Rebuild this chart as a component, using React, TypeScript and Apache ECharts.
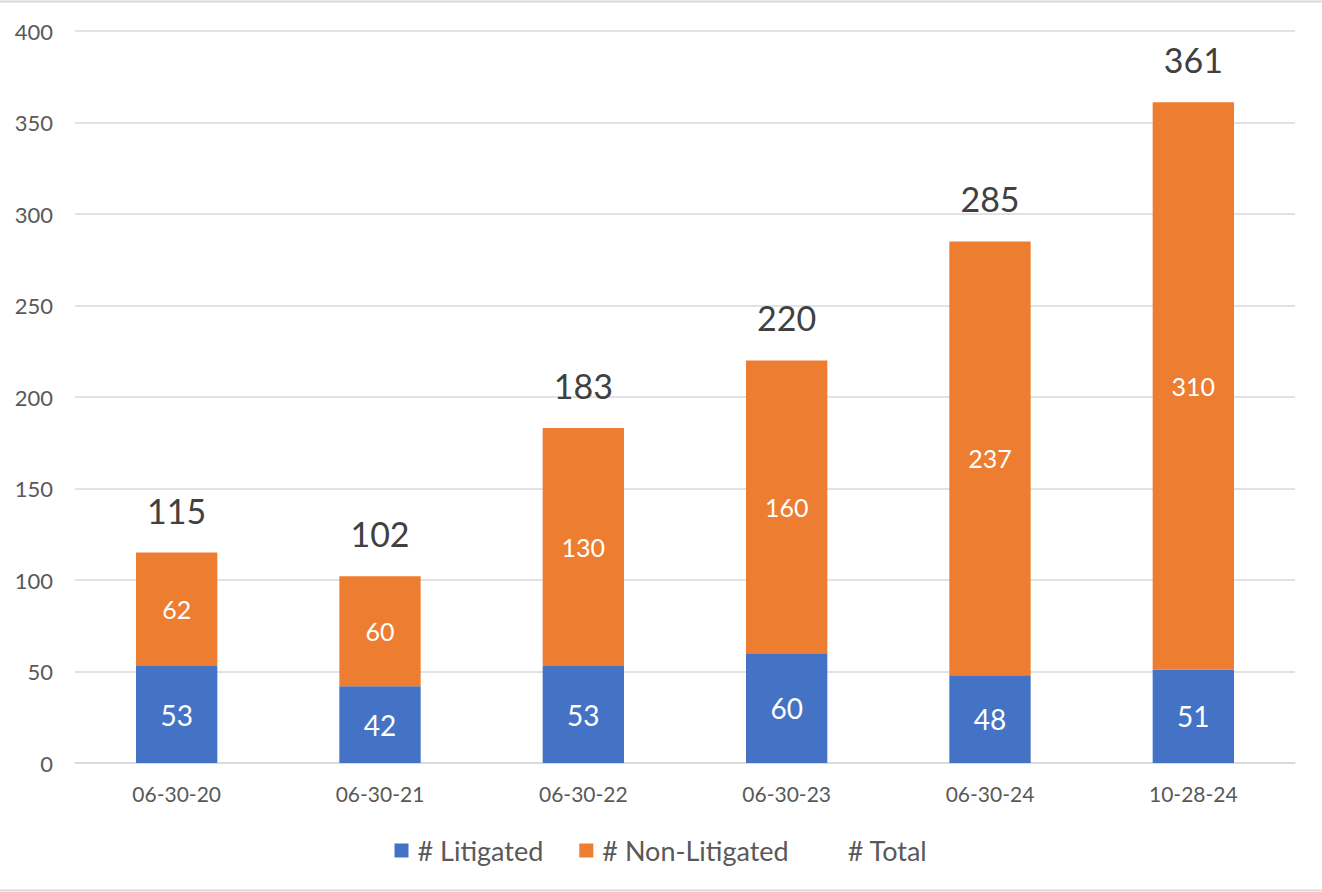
import React, { useEffect, useRef } from "react";
import * as echarts from "echarts";

const categories = ["06-30-20", "06-30-21", "06-30-22", "06-30-23", "06-30-24", "10-28-24"];
const litigated = [53, 42, 53, 60, 48, 51];
const nonLitigated = [62, 60, 130, 160, 237, 310];
const totals = [115, 102, 183, 220, 285, 361];

const FONT = "Lato, 'Noto Sans', sans-serif";

export default function App() {
  const ref = useRef<HTMLDivElement>(null);

  useEffect(() => {
    document.body.style.margin = "0";
    const chart = echarts.init(ref.current!, null, { renderer: "svg" });
    chart.setOption({
      animation: false,
      backgroundColor: "#ffffff",
      textStyle: { fontFamily: FONT },
      grid: { left: 75, right: 27, top: 31, bottom: 129, containLabel: false },
      legend: {
        left: "center",
        top: 832,
        itemWidth: 14,
        itemHeight: 14,
        itemGap: 36,
        icon: "rect",
        textStyle: { fontFamily: FONT, fontSize: 27, color: "#595959", padding: [0, 0, 0, 4] },
        data: ["# Litigated", "# Non-Litigated", "# Total"],
      },
      xAxis: {
        type: "category",
        data: categories,
        axisLine: { show: true, lineStyle: { color: "#D9D9D9", width: 1.5 } },
        axisTick: { show: false },
        axisLabel: { color: "#595959", fontSize: 21, margin: 20, fontFamily: FONT },
      },
      yAxis: {
        type: "value",
        min: 0,
        max: 400,
        interval: 50,
        axisLine: { show: false },
        axisTick: { show: false },
        axisLabel: { color: "#595959", fontSize: 22, margin: 22, fontFamily: FONT },
        splitLine: { lineStyle: { color: "#D9D9D9", width: 1.5 } },
      },
      series: [
        {
          name: "# Litigated",
          type: "bar",
          stack: "cases",
          barWidth: "40%",
          data: litigated,
          itemStyle: { color: "#4472C4" },
          label: { show: true, position: "inside", color: "#ffffff", fontSize: 28, fontFamily: FONT },
        },
        {
          name: "# Non-Litigated",
          type: "bar",
          stack: "cases",
          barWidth: "40%",
          data: nonLitigated,
          itemStyle: { color: "#ED7D31" },
          label: { show: true, position: "inside", color: "#ffffff", fontSize: 25, fontFamily: FONT },
        },
        {
          name: "# Total",
          type: "line",
          data: totals,
          symbol: "circle",
          symbolSize: 1,
          showSymbol: true,
          itemStyle: { color: "rgba(0,0,0,0)" },
          lineStyle: { width: 0 },
          label: {
            show: true,
            position: "top",
            distance: 25,
            color: "#404040",
            fontSize: 34,
            fontFamily: FONT,
          },
          z: 5,
        },
      ],
      graphic: [
        {
          type: "line",
          shape: { x1: 0, y1: 1.5, x2: 1322, y2: 1.5 },
          style: { stroke: "#D9D9D9", lineWidth: 2 },
        },
        {
          type: "line",
          shape: { x1: 0, y1: 890.5, x2: 1322, y2: 890.5 },
          style: { stroke: "#D9D9D9", lineWidth: 2 },
        },
      ],
    });
    return () => chart.dispose();
  }, []);

  return (
    <div
      ref={ref}
      style={{ position: "absolute", left: 0, top: 0, width: 1322, height: 892 }}
    />
  );
}
